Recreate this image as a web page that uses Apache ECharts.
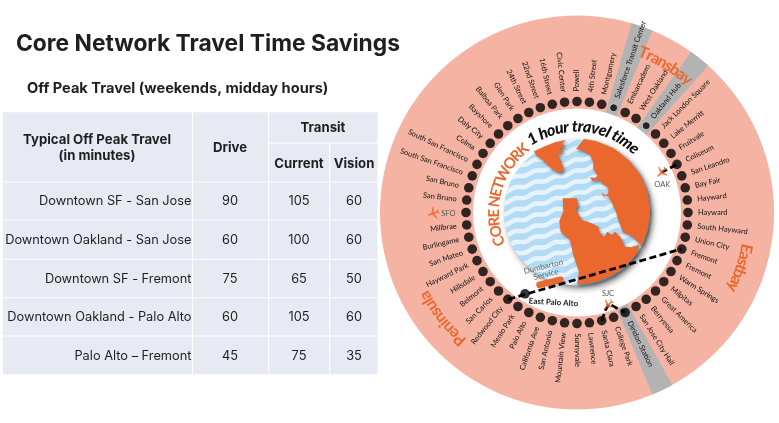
<!DOCTYPE html>
<html>
<head>
<meta charset="utf-8">
<style>html,body{margin:0;padding:0;background:#fff}#chart{width:779px;height:423px}</style>
<script src="https://cdn.jsdelivr.net/npm/echarts@6/dist/echarts.min.js"></script>
</head>
<body>
<div id="chart"></div>
<script>
// table values
var routes = ['Downtown SF - San Jose', 'Downtown Oakland - San Jose', 'Downtown SF - Fremont', 'Downtown Oakland - Palo Alto', 'Palo Alto \u2013 Fremont'];
var drive = [90, 60, 75, 60, 45];
var transitCurrent = [105, 100, 65, 105, 75];
var transitVision = [60, 60, 50, 60, 35];

// stations clockwise from the top of the ring
var stations = ['Powell', '4th Street', 'Montgomery', 'Salesforce Transit Center', 'Embarcadero', 'West Oakland', 'Oakland Hub',
    'Jack London Square', 'Lake Merritt', 'Fruitvale', 'Coliseum', 'San Leandro', 'Bay Fair', 'Hayward', 'Hayward',
    'South Hayward', 'Union City', 'Fremont', 'Fremont', 'Warm Springs', 'Milpitas', 'Great America', 'Berryessa',
    'San Jose City Hall', 'Diridon Station', 'College Park', 'Santa Clara', 'Lawrence', 'Sunnyvale', 'Mountain View',
    'San Antonio', 'California Ave', 'Palo Alto', 'Menlo Park', 'Redwood City', 'San Carlos', 'Belmont', 'Hillsdale',
    'Hayward Park', 'San Mateo', 'Burlingame', 'Millbrae', '', 'San Bruno', 'San Bruno', 'South San Francisco',
    'South San Francisco', 'Colma', 'Daly City', 'Bayshore', 'Balboa Park', 'Glen Park', '24th Street', '22nd Street',
    '16th Street', 'Civic Center'];
var hubStations = ['Salesforce Transit Center', 'Oakland Hub', 'Diridon Station'];
var haloStations = ['Salesforce Transit Center', 'Oakland Hub'];

// map outlines and other things placed on the page
var landNorth = [[534,151.3],[545,146.3],[555,142.3],[565.7,140],[561.7,144],[565,146.3],[559.3,149],[564,151.3],[556.7,155.7],[559.3,158],[562.7,165.7],[563.3,170],[560,173.3],[555,170.7],[550,167.3],[545,162.3],[540,158],[536,154.7]];
var landEast = [[584,139],[595.9,141],[613.5,148.3],[628.6,159.9],[640.2,175],[647.5,192.6],[650,211.5],[647.5,230.4],[641.5,245.8],[632,236],[623,232],[619,222],[616,212],[612,203],[608.3,196],[603.3,196.3],[601.7,192.3],[605,195.7],[608.3,193.3],[608.3,187.3],[603.3,184],[599,179.7],[592.3,180.7],[590,177.3],[595,178],[597.7,175.7],[593.3,169],[593.3,162.3],[590,154.7],[583.3,150.7],[576,149]];
var landSouth = [[562.7,198.3],[576.7,198.3],[578.3,205],[576,210],[578.3,214],[581.7,220],[591.7,223.3],[598.3,226.7],[599.3,231.7],[604,237.3],[607.3,231.7],[611.7,235],[615,231.7],[620,236.7],[625,246.7],[631.7,247.3],[639.3,245],[636.8,253.4],[628.6,263.1],[613.5,274.7],[595.9,282],[577,284.5],[579,271.7],[573.3,255],[570,240],[560.7,231.7],[559.3,220.7],[563.3,211.7]];
var dumbartonLine = [[508.3,299.3],[681.3,249]];
var sjcLine = [[601.7,320.7],[606,309],[609,304],[625,312.3]];
var oakLine = [[676.3,164.7],[661.7,172.3]];
var eastPaloAlto = [[525,293.8]];
var airports = [['OAK',661.7,172.3,135,662.3,184.3],['SFO',433.3,213.3,110,448.3,214],['SJC',608.3,305,135,608,294]];

var inkColor = '#1f1f1f';
var orange = '#ea672d';
var pink = '#f5b4a3';
var tableFill = '#e8eaf3';
var uiFont = 'Inter, "Noto Sans", sans-serif';
var mapFont = 'Lato, "Open Sans", sans-serif';

var mapX = 577, mapY = 212.5;
var ringR = 111;
var labelR = 121;

var tableCols = [2.3, 192.5, 268.7, 329.7, 378];
var tableRows = [111.7, 182, 220, 259.3, 297.7, 336, 374.7];
var tableCells = [
    [tableCols[0], tableRows[0], tableCols[1], tableRows[1]],
    [tableCols[1], tableRows[0], tableCols[2], tableRows[1]],
    [tableCols[2], tableRows[0], tableCols[4], 143],
    [tableCols[2], 143, tableCols[3], tableRows[1]],
    [tableCols[3], 143, tableCols[4], tableRows[1]]
];
for (var r = 0; r < routes.length; r++) {
    for (var c = 0; c < 4; c++) {
        tableCells.push([tableCols[c], tableRows[r + 1], tableCols[c + 1], tableRows[r + 2]]);
    }
}

var tableTexts = [
    ['Typical Off Peak Travel', 97, 140, 'center', 'bold'],
    ['(in minutes)', 97, 156, 'center', 'bold'],
    ['Drive', 230, 148, 'center', 'bold'],
    ['Transit', 323, 128, 'center', 'bold'],
    ['Current', 299, 164, 'center', 'bold'],
    ['Vision', 354, 164, 'center', 'bold']
];
routes.forEach(function (name, i) {
    var y = (tableRows[i + 1] + tableRows[i + 2]) / 2 + 0.5;
    tableTexts.push([name, 191.5, y, 'right', 'normal']);
    tableTexts.push([String(drive[i]), 230, y, 'center', 'normal']);
    tableTexts.push([String(transitCurrent[i]), 299, y, 'center', 'normal']);
    tableTexts.push([String(transitVision[i]), 354, y, 'center', 'normal']);
});

// letters laid out along an arc, spread to fill from..to degrees
var measure = document.createElement('canvas').getContext('2d');
var arcChars = [];
function addArcText(text, from, to, radius, font, fill) {
    measure.font = font;
    var widths = text.split('').map(function (ch) { return measure.measureText(ch).width; });
    var total = widths.reduce(function (a, b) { return a + b; }, 0);
    var arc = (to - from) * Math.PI / 180 * radius;
    var gap = (arc - total) / (text.length - 1);
    var pos = 0;
    text.split('').forEach(function (ch, i) {
        var a = from + (pos + widths[i] / 2) / radius * 180 / Math.PI;
        arcChars.push({ch: ch, radius: radius, angle: a, font: font, fill: fill});
        pos += widths[i] + gap;
    });
}
addArcText('CORE NETWORK', 246.5, 323, 83, 'bold 15px ' + mapFont, orange);
addArcText('1 hour travel time', 325.7, 404.5, 86, 'italic 900 16px ' + mapFont, '#111');
addArcText('Transbay', 21, 41, 173, 'bold 16px ' + mapFont, orange);
addArcText('Eastbay', 100.5, 117, 173, 'bold 16px ' + mapFont, orange);
addArcText('Peninsula', 221, 242.6, 173, 'bold 16px ' + mapFont, orange);

// water texture, one tile of the slanted waves
function waterTile() {
    var w = 40, h = 11;
    var tile = document.createElement('canvas');
    tile.width = w;
    tile.height = h;
    var g = tile.getContext('2d');
    g.fillStyle = '#b2dbf6';
    g.fillRect(0, 0, w, h);
    g.strokeStyle = '#e6f3fb';
    g.lineWidth = 4.6;
    for (var n = -1; n < 6; n++) {
        g.beginPath();
        for (var x = -2; x <= w + 2; x++) {
            var y = n * h - x * h / w + 1.1 * Math.sin(x / w * 4 * Math.PI);
            if (x === -2) g.moveTo(x, y); else g.lineTo(x, y);
        }
        g.stroke();
    }
    return tile;
}

function landSeries(points) {
    return {
        type: 'custom', xAxisIndex: 0, yAxisIndex: 0, z: 6, silent: true, data: [0],
        renderItem: function (params, api) {
            return {
                type: 'polygon',
                shape: {points: points.map(function (p) { return api.coord(p); })},
                style: {fill: orange, shadowBlur: 3, shadowColor: 'rgba(40,40,40,0.55)', shadowOffsetX: 1.5, shadowOffsetY: 2}
            };
        }
    };
}

function discSeries(radius, z, style) {
    return {
        type: 'custom', coordinateSystem: 'polar', polarIndex: 1, z: z, silent: true, data: [[radius, 0]],
        renderItem: function (params, api) {
            var c = api.coord([0, 0]);
            var e = api.coord([api.value(0), 0]);
            return {
                type: 'circle',
                shape: {cx: c[0], cy: c[1], r: Math.hypot(e[0] - c[0], e[1] - c[1])},
                style: style
            };
        }
    };
}

function dashSeries(points) {
    return {
        type: 'line', xAxisIndex: 0, yAxisIndex: 0, z: 8, silent: true, symbol: 'none', data: points,
        lineStyle: {color: '#000', width: 2.8, type: [7, 3.5]}
    };
}

function looseText(list, z) {
    return {
        type: 'custom', xAxisIndex: 0, yAxisIndex: 0, z: z, silent: true,
        data: list.map(function (t) { return [t.x, t.y]; }),
        renderItem: function (params, api) {
            var t = list[params.dataIndex];
            var p = api.coord([t.x, t.y]);
            return {
                type: 'text', x: p[0], y: p[1], rotation: (t.rotate || 0) * Math.PI / 180,
                style: {text: t.text, align: 'center', verticalAlign: 'middle', font: t.font, fill: t.fill}
            };
        }
    };
}

var planePath = 'path://M12 1C13 1 13.6 3 13.6 5L13.6 9L22 14L22 16L13.6 13.5L13.3 19L16 21L16 22.5L12 21.5L8 22.5L8 21L10.7 19L10.4 13.5L2 16L2 14L10.4 9L10.4 5C10.4 3 11 1 12 1Z';

var option = {
    animation: false,
    title: [
        {text: 'Core Network Travel Time Savings', left: 11, top: 28, textStyle: {fontFamily: uiFont, fontSize: 22.8, fontWeight: 'bold', color: inkColor}},
        {text: 'Off Peak Travel (weekends, midday hours)', left: 22, top: 76, textStyle: {fontFamily: uiFont, fontSize: 14.6, fontWeight: 'bold', color: inkColor}}
    ],
    grid: {left: 0, top: 0, width: 779, height: 423},
    xAxis: {type: 'value', min: 0, max: 779, show: false},
    yAxis: {type: 'value', min: 0, max: 423, inverse: true, show: false},
    polar: [
        {center: [mapX, mapY], radius: [0, 197]},
        {center: [mapX, mapY], radius: [0, 197]}
    ],
    radiusAxis: [
        {polarIndex: 0, type: 'value', min: 0, max: 197, show: false},
        {polarIndex: 1, type: 'value', min: 0, max: 197, show: false}
    ],
    angleAxis: [
        // a category's ticks sit mid band, so shift half a band to put Powell at the top
        {polarIndex: 0, type: 'category', data: stations, startAngle: 90 + 180 / stations.length, show: false},
        {polarIndex: 1, type: 'value', min: 0, max: 360, startAngle: 90, show: false}
    ],
    series: [
        discSeries(197, 1, {fill: pink}),
        {
            type: 'bar', coordinateSystem: 'polar', polarIndex: 0, z: 2, silent: true, barCategoryGap: '0%',
            data: stations.map(function (s) { return hubStations.indexOf(s) >= 0 ? 197 : '-'; }),
            itemStyle: {color: '#b3b3b3'}
        },
        discSeries(104, 3, {fill: '#fff'}),
        discSeries(73, 4, {fill: {image: waterTile(), repeat: 'repeat'}, shadowBlur: 6, shadowColor: 'rgba(30,30,30,0.6)', shadowOffsetX: 3, shadowOffsetY: 3}),
        landSeries(landNorth),
        landSeries(landEast),
        landSeries(landSouth),
        // table
        {
            type: 'custom', xAxisIndex: 0, yAxisIndex: 0, z: 2, silent: true, data: tableCells,
            renderItem: function (params, api) {
                var a = api.coord([api.value(0), api.value(1)]);
                var b = api.coord([api.value(2), api.value(3)]);
                return {
                    type: 'rect',
                    shape: {x: a[0] + 0.5, y: a[1] + 0.5, width: b[0] - a[0] - 1, height: b[1] - a[1] - 1},
                    style: {fill: tableFill}
                };
            }
        },
        {
            type: 'custom', xAxisIndex: 0, yAxisIndex: 0, z: 3, silent: true,
            data: tableTexts.map(function (t) { return [t[1], t[2]]; }),
            renderItem: function (params, api) {
                var t = tableTexts[params.dataIndex];
                var p = api.coord([t[1], t[2]]);
                return {
                    type: 'text', x: p[0], y: p[1],
                    style: {text: t[0], align: t[3], verticalAlign: 'middle', fill: inkColor, font: t[4] + ' ' + (t[4] === 'bold' ? 13.2 : 12.8) + 'px ' + uiFont}
                };
            }
        },
        // ring
        {
            type: 'scatter', coordinateSystem: 'polar', polarIndex: 0, z: 7, silent: true, symbolSize: 9.6,
            data: stations.map(function (s, i) {
                var halo = haloStations.indexOf(s) >= 0;
                return {
                    value: [ringR, i],
                    symbolSize: halo ? 8 : 9.6,
                    itemStyle: {color: '#000', borderColor: halo ? '#e8e8e8' : '#000', borderWidth: halo ? 1 : 0}
                };
            })
        },
        {
            type: 'custom', coordinateSystem: 'polar', polarIndex: 0, z: 9, silent: true,
            data: stations.map(function (s, i) { return [labelR, i]; }),
            renderItem: function (params, api) {
                var i = params.dataIndex;
                var p = api.coord([api.value(0), api.value(1)]);
                var deg = Math.atan2(p[0] - mapX, mapY - p[1]) * 180 / Math.PI;
                if (deg < -0.1) deg += 360;
                var right = deg <= 180.1;
                var rotate = right ? 90 - deg : 270 - deg;
                return {
                    type: 'text', x: p[0], y: p[1], rotation: rotate * Math.PI / 180,
                    style: {text: stations[i], align: right ? 'left' : 'right', verticalAlign: 'middle', font: '7.5px ' + mapFont, fill: '#111'}
                };
            }
        },
        {
            type: 'custom', coordinateSystem: 'polar', polarIndex: 1, z: 10, silent: true,
            data: arcChars.map(function (c) { return [c.radius, c.angle % 360]; }),
            renderItem: function (params, api) {
                var c = arcChars[params.dataIndex];
                var p = api.coord([api.value(0), api.value(1)]);
                return {
                    type: 'text', x: p[0], y: p[1], rotation: -c.angle * Math.PI / 180,
                    style: {text: c.ch, align: 'center', verticalAlign: 'middle', font: c.font, fill: c.fill}
                };
            }
        },
        dashSeries(dumbartonLine),
        dashSeries(sjcLine),
        dashSeries(oakLine),
        {
            type: 'scatter', xAxisIndex: 0, yAxisIndex: 0, z: 8, silent: true, symbolSize: 9.6,
            data: eastPaloAlto, itemStyle: {color: '#000'}
        },
        // airports
        {
            type: 'scatter', xAxisIndex: 0, yAxisIndex: 0, z: 9, silent: true, symbol: planePath, symbolSize: 12,
            data: airports.map(function (a) { return {value: [a[1], a[2]], symbolRotate: a[3]}; }),
            itemStyle: {color: orange}
        },
        looseText(airports.map(function (a) {
            return {text: a[0], x: a[4], y: a[5], font: '7.5px ' + mapFont, fill: '#555'};
        }).concat([
            {text: 'Dumbarton', x: 543.3, y: 266.7, rotate: 14, font: '8px ' + mapFont, fill: '#666'},
            {text: 'Service', x: 546, y: 274.5, rotate: 14, font: '8px ' + mapFont, fill: '#666'},
            {text: 'East Palo Alto', x: 553.5, y: 302.3, rotate: -3, font: 'bold 8px ' + mapFont, fill: '#222'}
        ]), 10),
        // train
        {
            type: 'custom', xAxisIndex: 0, yAxisIndex: 0, z: 8, silent: true, data: [[550, 282.3]],
            renderItem: function (params, api) {
                var p = api.coord([api.value(0), api.value(1)]);
                return {
                    type: 'rect', x: p[0], y: p[1], rotation: 14 * Math.PI / 180,
                    shape: {x: -14, y: -3.2, width: 28, height: 6.4, r: 3},
                    style: {fill: orange}
                };
            }
        }
    ]
};

var chart = echarts.init(document.getElementById('chart'));
chart.setOption(option);
</script>
</body>
</html>
